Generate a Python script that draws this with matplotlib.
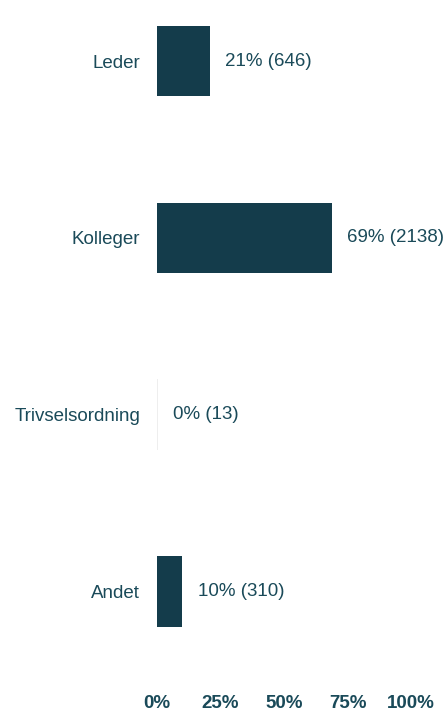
import matplotlib
matplotlib.use("Agg")
import matplotlib.pyplot as plt
from matplotlib.ticker import FuncFormatter

categories = ["Leder", "Kolleger", "Trivselsordning", "Andet"]
counts = [646, 2138, 13, 310]
x_ticks = [0, 25, 50, 75, 100]

total = sum(counts)
shares = [c / total * 100 for c in counts]

plt.rcParams["font.family"] = ["Liberation Sans", "DejaVu Sans"]
bar_color = "#143c4b"
faint_color = "#eeeeee"
text_color = "#1a4a59"

W, H = 447, 713
fig = plt.figure(figsize=(W / 100, H / 100), dpi=100)
left, right = 157, 411
top, bottom = 0, 689
ax = fig.add_axes([left / W, 1 - bottom / H, (right - left) / W, (bottom - top) / H])

ypos = list(range(len(categories)))
# shares that round to 0% are drawn as a faint sliver
colors = [bar_color if s >= 0.5 else faint_color for s in shares]
ax.barh(ypos, shares, height=0.4, color=colors, linewidth=0)

for y, s, c in zip(ypos, shares, counts):
    ax.annotate(f"{s:.0f}% ({c})", xy=(s, y), xytext=(11, 0),
                textcoords="offset points", va="center", ha="left",
                fontsize=13.5, color=text_color, annotation_clip=False)

ax.set_xlim(0, 100)
ax.set_ylim(3.55, -0.345)
ax.set_yticks(ypos)
ax.set_yticklabels(categories, fontsize=13.5, color=text_color)
ax.set_xticks(x_ticks)
ax.xaxis.set_major_formatter(FuncFormatter(lambda v, p: f"{v:.0f}%"))
for lbl in ax.get_xticklabels():
    lbl.set_fontweight("bold")
    lbl.set_fontsize(13.5)
    lbl.set_color(text_color)

ax.tick_params(axis="y", length=0, pad=12)
ax.tick_params(axis="x", length=0, pad=4)
for sp in ax.spines.values():
    sp.set_visible(False)

fig.savefig("out.png", dpi=100)
